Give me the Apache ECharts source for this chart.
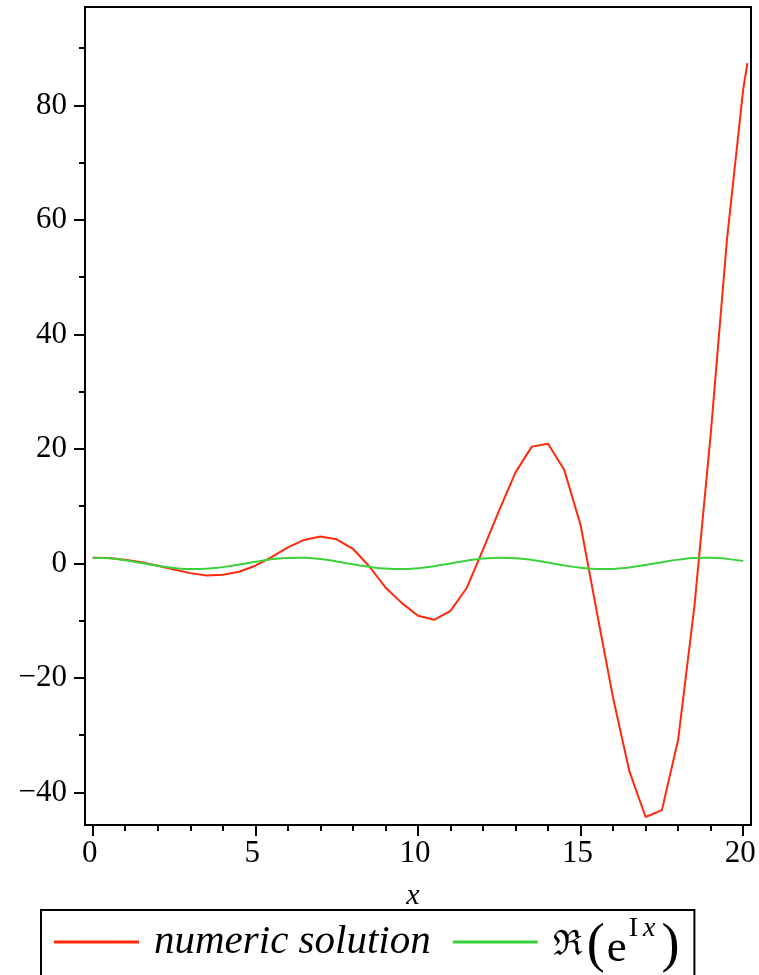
<!DOCTYPE html>
<html>
<head>
<meta charset="utf-8">
<script src="https://cdn.jsdelivr.net/npm/echarts@6/dist/echarts.min.js"></script>
<style>html,body{margin:0;padding:0;background:#fff;overflow:hidden}#c{width:759px;height:975px}</style>
</head>
<body>
<div id="c"></div>
<script>
var xNumeric = [0,0.5,1,1.5,2,2.5,3,3.5,4,4.5,5,5.5,6,6.5,7,7.5,8,8.5,9,9.5,10,10.5,11,11.5,12,12.5,13,13.5,14,14.5,15,15.5,16,16.5,17,17.5,18,18.5,19,19.5,20,20.13];
var numericSolution = [1.0,0.95,0.65,0.2,-0.4,-1.05,-1.7,-2.1,-2.0,-1.45,-0.4,1.1,2.8,4.1,4.7,4.2,2.55,-0.5,-4.2,-6.9,-9.15,-9.85,-8.3,-4.3,2.4,9.3,15.9,20.4,20.9,16.3,6.7,-8.5,-23.5,-36.3,-44.3,-43.1,-30.8,-7.5,22.5,56.5,82.8,87.4];
var xExact = [0,0.5,1,1.5,2,2.5,3,3.5,4,4.5,5,5.5,6,6.5,7,7.5,8,8.5,9,9.5,10,10.5,11,11.5,12,12.5,13,13.5,14,14.5,15,15.5,16,16.5,17,17.5,18,18.5,19,19.5,20];
var exactValues = [1.00,0.88,0.54,0.07,-0.42,-0.80,-0.99,-0.94,-0.65,-0.21,0.28,0.71,0.96,0.98,0.75,0.35,-0.15,-0.60,-0.91,-1.00,-0.84,-0.48,0.00,0.48,0.84,1.00,0.91,0.59,0.14,-0.36,-0.76,-0.98,-0.96,-0.70,-0.28,0.21,0.66,0.95,0.99,0.79,0.41];
var xMajorTicks = [0,5,10,15,20];
var xMinorTicks = [1,2,3,4,6,7,8,9,11,12,13,14,16,17,18,19];
var yMajorTicks = [-40,-20,0,20,40,60,80];
var yMinorTicks = [-30,-10,10,30,50,70,90];
var seriesNames = ['numeric solution', 'exact'];

var FONT = "'Liberation Serif','Times New Roman',serif";
function pairs(xs, ys){ return xs.map(function(x,i){ return [x, ys[i]]; }); }
function fmt(v){ return v < 0 ? '\u2212' + Math.abs(v) : String(v); }

var xMin = -0.237, xMax = 20.24, yMin = -45.7, yMax = 97.2;

var chart = echarts.init(document.getElementById('c'), null, {renderer:'canvas'});
chart.setOption({
  backgroundColor: '#fff',
  animation: false,
  grid: {left: 85, right: 8, top: 7, bottom: 150, show: true, borderColor: '#000', borderWidth: 2, containLabel: false},
  xAxis: [{
    type: 'value', min: xMin, max: xMax, position: 'bottom',
    name: 'x', nameLocation: 'middle', nameGap: 56,
    nameTextStyle: {fontFamily: FONT, fontStyle: 'italic', fontSize: 30, color: '#000', padding: [0, 10, 0, 0]},
    axisLine: {show: true, onZero: false, lineStyle: {color: '#000', width: 2}},
    axisTick: {show: true, inside: false, length: 11, customValues: xMajorTicks, lineStyle: {color: '#000', width: 2}},
    axisLabel: {customValues: xMajorTicks, margin: 13, fontFamily: FONT, fontSize: 31, color: '#000', formatter: fmt, padding: [0, 6, 0, 0]},
    splitLine: {show: false}
  },{
    type: 'value', min: xMin, max: xMax, position: 'bottom', offset: 0,
    axisLine: {show: false, onZero: false},
    axisTick: {show: true, inside: false, length: 6, customValues: xMinorTicks, lineStyle: {color: '#000', width: 2}},
    axisLabel: {show: false},
    splitLine: {show: false}
  }],
  yAxis: [{
    type: 'value', min: yMin, max: yMax, position: 'left',
    axisLine: {show: true, onZero: false, lineStyle: {color: '#000', width: 2}},
    axisTick: {show: true, inside: false, length: 11, customValues: yMajorTicks, lineStyle: {color: '#000', width: 2}},
    axisLabel: {customValues: yMajorTicks, margin: 18, fontFamily: FONT, fontSize: 31, color: '#000', formatter: fmt},
    splitLine: {show: false}
  },{
    type: 'value', min: yMin, max: yMax, position: 'left', offset: 0,
    axisLine: {show: false, onZero: false},
    axisTick: {show: true, inside: false, length: 6, customValues: yMinorTicks, lineStyle: {color: '#000', width: 2}},
    axisLabel: {show: false},
    splitLine: {show: false}
  }],
  legend: {
    left: 41, top: 910,
    padding: [0, 15, 40, 13],
    borderColor: '#000', borderWidth: 2,
    icon: 'rect', itemWidth: 85, itemHeight: 3, itemGap: 22,
    data: seriesNames,
    formatter: function(name){
      if (name === 'exact') return '{r|\u211C}{p|(}{e|e}{s|I}{si|x}{q|)}';
      return '{n|' + name + '}';
    },
    textStyle: {
      color: '#000', fontFamily: FONT, fontSize: 41, padding: [0, 0, 0, 10],
      rich: {
        n: {fontFamily: FONT, fontStyle: 'italic', fontSize: 41, lineHeight: 64},
        r: {fontFamily: "'DejaVu Serif',serif", fontSize: 35, padding: [8, 0, 0, 0]},
        p: {fontFamily: FONT, fontSize: 54, lineHeight: 64, padding: [10, 2, 0, 4]},
        q: {fontFamily: FONT, fontSize: 54, lineHeight: 64, padding: [10, 0, 0, 6]},
        e: {fontFamily: FONT, fontSize: 45, padding: [14, 0, 0, 0]},
        s: {fontFamily: FONT, fontSize: 28, verticalAlign: 'top', padding: [5, 0, 0, 2]},
        si: {fontFamily: FONT, fontStyle: 'italic', fontSize: 28, verticalAlign: 'top', padding: [5, 0, 0, 5]}
      }
    }
  },
  series: [{
    name: seriesNames[0], type: 'line', xAxisIndex: 0, yAxisIndex: 0,
    data: pairs(xNumeric, numericSolution),
    showSymbol: false, symbol: 'none', clip: true,
    lineStyle: {color: '#ff2a0a', width: 2}, itemStyle: {color: '#ff2a0a'}
  },{
    name: seriesNames[1], type: 'line', xAxisIndex: 0, yAxisIndex: 0,
    data: pairs(xExact, exactValues), smooth: true,
    showSymbol: false, symbol: 'none', clip: true,
    lineStyle: {color: '#3ad23a', width: 2}, itemStyle: {color: '#3ad23a'}
  }]
});
</script>
</body>
</html>
